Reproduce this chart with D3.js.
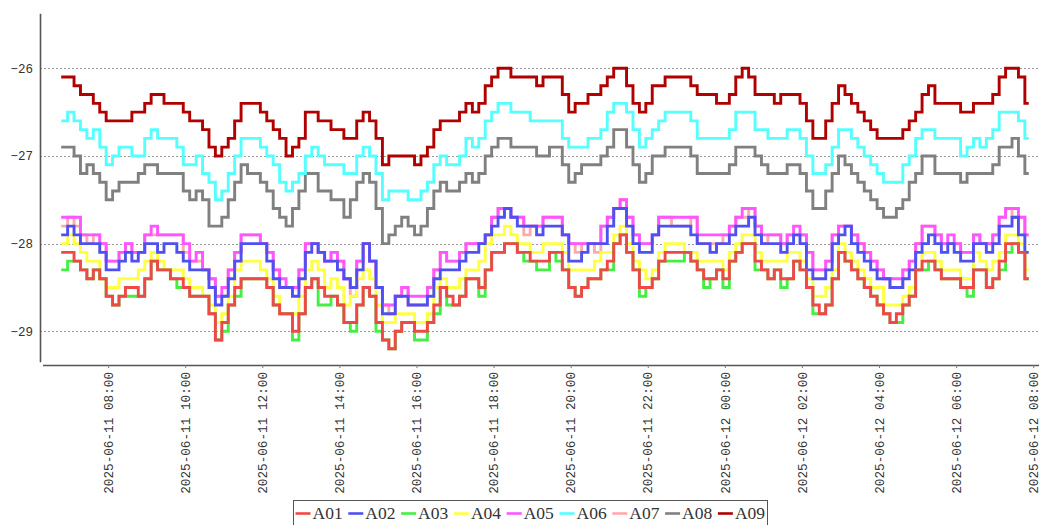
<!DOCTYPE html>
<html><head><meta charset="utf-8">
<script src="https://cdn.jsdelivr.net/npm/d3@7"></script>
<style>body{margin:0;background:#fff;overflow:hidden}</style>
</head><body>
<svg id="c" width="1039" height="525"></svg>
<script>
const seriesNames = ["A01","A02","A03","A04","A05","A06","A07","A08","A09"];
const seriesColors = ["#f04848","#5050f0","#44ee44","#ffff44","#ff55ff","#55ffff","#ffaaaa","#808080","#b00000"];
const startTime = "2025-06-11 06:47";
const stepMinutes = 10;
const endTime = "2025-06-12 07:53";
const yTicks = [-29, -28, -27, -26];
const yTickLabels = ["\u221229", "\u221228", "\u221227", "\u221226"];
const xTickLabels = ["2025-06-11 08:00","2025-06-11 10:00","2025-06-11 12:00","2025-06-11 14:00","2025-06-11 16:00","2025-06-11 18:00","2025-06-11 20:00","2025-06-11 22:00","2025-06-12 00:00","2025-06-12 02:00","2025-06-12 04:00","2025-06-12 06:00","2025-06-12 08:00"];

const A09 = [-26.1,-26.1,-26.2,-26.3,-26.3,-26.4,-26.5,-26.6,-26.6,-26.6,
-26.6,-26.5,-26.5,-26.4,-26.3,-26.3,-26.4,-26.4,-26.4,-26.5,
-26.6,-26.6,-26.7,-26.9,-27.0,-26.9,-26.8,-26.6,-26.4,-26.4,
-26.4,-26.5,-26.6,-26.7,-26.8,-27.0,-26.9,-26.8,-26.5,-26.5,
-26.6,-26.6,-26.7,-26.7,-26.8,-26.8,-26.6,-26.5,-26.6,-26.8,
-27.1,-27.0,-27.0,-27.0,-27.0,-27.1,-27.0,-26.9,-26.7,-26.6,
-26.6,-26.6,-26.5,-26.4,-26.5,-26.4,-26.2,-26.1,-26.0,-26.0,
-26.1,-26.1,-26.1,-26.1,-26.2,-26.1,-26.1,-26.1,-26.3,-26.5,
-26.4,-26.4,-26.3,-26.3,-26.2,-26.1,-26.0,-26.0,-26.2,-26.4,
-26.5,-26.4,-26.2,-26.2,-26.1,-26.1,-26.1,-26.1,-26.2,-26.3,
-26.3,-26.3,-26.4,-26.4,-26.3,-26.1,-26.0,-26.1,-26.3,-26.3,
-26.3,-26.4,-26.3,-26.3,-26.3,-26.4,-26.6,-26.8,-26.8,-26.6,
-26.4,-26.2,-26.3,-26.4,-26.5,-26.6,-26.7,-26.8,-26.8,-26.8,
-26.8,-26.7,-26.6,-26.5,-26.3,-26.2,-26.4,-26.4,-26.4,-26.4,
-26.5,-26.5,-26.4,-26.4,-26.4,-26.3,-26.1,-26.0,-26.0,-26.1,
-26.4];
const A06 = [-26.6,-26.5,-26.6,-26.7,-26.8,-26.7,-26.9,-27.1,-27.0,-26.9,
-26.9,-27.0,-27.0,-26.8,-26.7,-26.8,-26.8,-26.8,-26.9,-27.1,
-27.1,-27.0,-27.2,-27.3,-27.5,-27.4,-27.2,-27.0,-26.8,-26.8,
-26.8,-26.9,-27.0,-27.1,-27.3,-27.4,-27.3,-27.2,-27.0,-26.9,
-27.0,-27.1,-27.1,-27.1,-27.2,-27.2,-27.0,-26.9,-27.0,-27.2,
-27.5,-27.4,-27.4,-27.4,-27.5,-27.5,-27.4,-27.3,-27.1,-27.0,
-27.1,-27.1,-27.0,-26.8,-26.9,-26.8,-26.6,-26.5,-26.4,-26.4,
-26.5,-26.5,-26.5,-26.6,-26.6,-26.6,-26.6,-26.6,-26.8,-26.9,
-26.9,-26.9,-26.8,-26.8,-26.7,-26.5,-26.4,-26.4,-26.5,-26.7,
-26.9,-26.8,-26.7,-26.6,-26.5,-26.5,-26.5,-26.5,-26.6,-26.8,
-26.8,-26.8,-26.8,-26.8,-26.7,-26.5,-26.5,-26.5,-26.7,-26.7,
-26.8,-26.8,-26.8,-26.7,-26.7,-26.8,-27.0,-27.2,-27.2,-27.1,
-26.9,-26.7,-26.7,-26.8,-26.9,-27.0,-27.1,-27.2,-27.3,-27.3,
-27.3,-27.1,-27.0,-26.8,-26.7,-26.7,-26.8,-26.8,-26.8,-26.8,
-27.0,-26.9,-26.8,-26.9,-26.8,-26.7,-26.5,-26.5,-26.5,-26.6,
-26.8];
const A08 = [-26.9,-26.9,-27.0,-27.2,-27.1,-27.2,-27.3,-27.5,-27.4,-27.3,
-27.3,-27.3,-27.2,-27.1,-27.1,-27.2,-27.2,-27.2,-27.2,-27.4,
-27.5,-27.4,-27.5,-27.8,-27.8,-27.7,-27.5,-27.3,-27.1,-27.2,
-27.2,-27.3,-27.4,-27.6,-27.7,-27.8,-27.6,-27.4,-27.2,-27.2,
-27.4,-27.4,-27.5,-27.5,-27.7,-27.5,-27.3,-27.2,-27.3,-27.6,
-28.0,-27.9,-27.8,-27.7,-27.8,-27.9,-27.8,-27.6,-27.4,-27.3,
-27.4,-27.4,-27.3,-27.2,-27.3,-27.2,-27.0,-26.9,-26.8,-26.8,
-26.9,-26.9,-26.9,-26.9,-27.0,-27.0,-26.9,-26.9,-27.1,-27.3,
-27.2,-27.1,-27.1,-27.1,-27.0,-26.9,-26.7,-26.7,-26.9,-27.1,
-27.3,-27.2,-27.0,-27.0,-26.9,-26.9,-26.9,-26.9,-27.0,-27.2,
-27.2,-27.2,-27.2,-27.2,-27.1,-26.9,-26.9,-26.9,-27.0,-27.1,
-27.2,-27.2,-27.2,-27.1,-27.1,-27.2,-27.4,-27.6,-27.6,-27.4,
-27.2,-27.0,-27.1,-27.2,-27.3,-27.4,-27.5,-27.6,-27.7,-27.7,
-27.6,-27.5,-27.3,-27.2,-27.0,-27.0,-27.2,-27.2,-27.2,-27.2,
-27.3,-27.2,-27.2,-27.2,-27.2,-27.1,-26.9,-26.9,-26.8,-27.0,
-27.2];
const A05 = [-27.7,-27.7,-27.7,-27.9,-27.9,-27.9,-28.0,-28.2,-28.2,-28.1,
-28.0,-28.1,-28.1,-27.9,-27.8,-27.9,-27.9,-27.9,-27.9,-28.0,
-28.2,-28.1,-28.3,-28.4,-28.6,-28.5,-28.3,-28.1,-27.9,-27.9,
-27.9,-28.0,-28.1,-28.3,-28.4,-28.5,-28.5,-28.3,-28.0,-28.0,
-28.1,-28.2,-28.1,-28.2,-28.4,-28.5,-28.2,-28.0,-28.2,-28.5,
-28.7,-28.7,-28.6,-28.5,-28.6,-28.6,-28.6,-28.5,-28.3,-28.1,
-28.2,-28.2,-28.1,-28.0,-28.0,-28.0,-27.9,-27.7,-27.6,-27.6,
-27.7,-27.7,-27.8,-27.8,-27.8,-27.7,-27.7,-27.7,-27.9,-28.0,
-28.0,-28.0,-28.0,-28.0,-27.8,-27.7,-27.6,-27.5,-27.7,-27.9,
-28.0,-28.0,-27.9,-27.7,-27.7,-27.7,-27.7,-27.7,-27.7,-27.9,
-27.9,-27.9,-27.9,-27.9,-27.8,-27.7,-27.6,-27.6,-27.8,-27.9,
-27.9,-27.9,-28.0,-27.9,-27.8,-27.9,-28.1,-28.3,-28.3,-28.2,
-27.9,-27.8,-27.8,-27.9,-28.0,-28.1,-28.2,-28.3,-28.4,-28.4,
-28.4,-28.3,-28.2,-28.0,-27.8,-27.8,-27.9,-28.0,-27.9,-28.0,
-28.1,-28.1,-27.9,-28.0,-28.0,-27.9,-27.7,-27.6,-27.6,-27.7,
-27.9];
const A07 = [-27.8,-27.7,-27.8,-27.9,-28.0,-27.9,-28.0,-28.2,-28.2,-28.1,
-28.0,-28.1,-28.1,-27.9,-27.9,-27.9,-27.9,-27.9,-27.9,-28.1,
-28.2,-28.2,-28.3,-28.4,-28.6,-28.6,-28.3,-28.1,-27.9,-27.9,
-27.9,-28.0,-28.1,-28.3,-28.5,-28.5,-28.5,-28.3,-28.0,-28.0,
-28.1,-28.2,-28.1,-28.2,-28.4,-28.6,-28.2,-28.0,-28.2,-28.5,
-28.7,-28.8,-28.6,-28.5,-28.7,-28.7,-28.7,-28.5,-28.3,-28.1,
-28.2,-28.2,-28.1,-28.0,-28.0,-28.0,-27.9,-27.7,-27.6,-27.6,
-27.7,-27.7,-27.9,-27.8,-27.8,-27.7,-27.7,-27.7,-27.9,-28.0,
-28.1,-28.0,-28.0,-28.1,-27.8,-27.7,-27.6,-27.5,-27.7,-27.9,
-28.0,-28.0,-27.9,-27.7,-27.7,-27.8,-27.8,-27.8,-27.7,-28.0,
-28.0,-28.0,-28.0,-27.9,-27.8,-27.7,-27.7,-27.6,-27.8,-28.0,
-27.9,-27.9,-28.0,-27.9,-27.9,-27.9,-28.1,-28.3,-28.3,-28.2,
-27.9,-27.8,-27.8,-27.9,-28.0,-28.1,-28.2,-28.3,-28.4,-28.5,
-28.5,-28.3,-28.2,-28.0,-27.8,-27.8,-27.9,-28.0,-28.0,-28.0,
-28.1,-28.1,-27.9,-28.0,-28.0,-27.9,-27.7,-27.6,-27.7,-27.7,
-27.9];
const A02 = [-27.9,-27.8,-27.9,-28.0,-28.0,-28.0,-28.1,-28.3,-28.3,-28.2,
-28.1,-28.2,-28.1,-28.0,-28.0,-28.1,-28.0,-28.0,-28.1,-28.2,
-28.3,-28.3,-28.3,-28.5,-28.7,-28.6,-28.4,-28.2,-28.0,-28.0,
-28.0,-28.0,-28.2,-28.4,-28.5,-28.5,-28.6,-28.4,-28.1,-28.0,
-28.1,-28.2,-28.2,-28.3,-28.4,-28.5,-28.3,-28.0,-28.2,-28.5,
-28.8,-28.8,-28.6,-28.6,-28.7,-28.7,-28.7,-28.6,-28.4,-28.3,
-28.3,-28.3,-28.2,-28.1,-28.1,-28.0,-27.9,-27.8,-27.7,-27.6,
-27.7,-27.8,-27.8,-27.8,-27.9,-27.8,-27.8,-27.8,-27.9,-28.2,
-28.2,-28.1,-28.0,-28.0,-28.0,-27.8,-27.6,-27.6,-27.8,-28.0,
-28.1,-28.1,-27.9,-27.8,-27.8,-27.8,-27.8,-27.8,-27.9,-28.0,
-28.0,-28.1,-28.0,-28.0,-27.9,-27.8,-27.8,-27.7,-27.9,-28.0,
-28.0,-28.0,-28.1,-28.0,-27.9,-28.0,-28.3,-28.4,-28.4,-28.3,
-28.0,-27.9,-27.8,-28.0,-28.1,-28.2,-28.3,-28.4,-28.4,-28.5,
-28.5,-28.4,-28.3,-28.1,-28.0,-27.9,-28.0,-28.1,-28.0,-28.1,
-28.2,-28.2,-28.0,-28.0,-28.1,-28.0,-27.8,-27.8,-27.7,-27.9,
-28.1];
const A04 = [-28.0,-27.9,-28.0,-28.1,-28.2,-28.2,-28.4,-28.5,-28.5,-28.4,
-28.4,-28.4,-28.3,-28.2,-28.1,-28.2,-28.3,-28.3,-28.3,-28.4,
-28.5,-28.5,-28.6,-28.7,-28.9,-28.8,-28.6,-28.3,-28.2,-28.2,
-28.2,-28.3,-28.4,-28.6,-28.8,-28.8,-28.8,-28.6,-28.3,-28.2,
-28.3,-28.5,-28.4,-28.5,-28.7,-28.6,-28.4,-28.3,-28.4,-28.7,
-28.9,-28.9,-28.8,-28.8,-28.8,-28.9,-28.9,-28.8,-28.5,-28.4,
-28.5,-28.5,-28.4,-28.3,-28.3,-28.2,-28.0,-27.9,-27.9,-27.8,
-27.9,-28.0,-28.0,-28.1,-28.1,-28.0,-28.0,-28.0,-28.1,-28.3,
-28.3,-28.3,-28.3,-28.2,-28.1,-28.1,-27.9,-27.8,-28.0,-28.2,
-28.3,-28.4,-28.3,-28.1,-28.0,-28.0,-28.0,-28.1,-28.1,-28.2,
-28.2,-28.2,-28.2,-28.3,-28.1,-28.0,-27.9,-27.9,-28.1,-28.2,
-28.2,-28.2,-28.2,-28.1,-28.1,-28.2,-28.4,-28.6,-28.6,-28.5,
-28.3,-28.0,-28.1,-28.2,-28.3,-28.4,-28.5,-28.5,-28.7,-28.7,
-28.7,-28.6,-28.5,-28.3,-28.1,-28.1,-28.2,-28.3,-28.3,-28.3,
-28.4,-28.4,-28.1,-28.2,-28.3,-28.2,-28.1,-27.9,-27.9,-28.0,
-28.3];
const A01 = [-28.1,-28.1,-28.2,-28.3,-28.4,-28.3,-28.4,-28.6,-28.7,-28.6,
-28.5,-28.5,-28.6,-28.4,-28.2,-28.3,-28.3,-28.4,-28.4,-28.5,
-28.6,-28.6,-28.6,-28.8,-29.1,-28.9,-28.7,-28.5,-28.4,-28.4,
-28.4,-28.4,-28.5,-28.7,-28.8,-28.8,-29.0,-28.8,-28.5,-28.4,
-28.5,-28.6,-28.6,-28.7,-28.9,-28.9,-28.7,-28.5,-28.6,-28.9,
-29.1,-29.2,-29.0,-28.9,-28.9,-29.0,-29.0,-28.9,-28.7,-28.5,
-28.6,-28.7,-28.6,-28.4,-28.4,-28.5,-28.3,-28.1,-28.1,-28.0,
-28.0,-28.1,-28.1,-28.2,-28.2,-28.2,-28.1,-28.1,-28.3,-28.5,
-28.6,-28.5,-28.4,-28.4,-28.3,-28.2,-28.0,-27.9,-28.1,-28.3,
-28.5,-28.5,-28.4,-28.2,-28.1,-28.1,-28.1,-28.1,-28.2,-28.3,
-28.4,-28.4,-28.3,-28.4,-28.2,-28.1,-28.0,-28.0,-28.2,-28.3,
-28.4,-28.3,-28.4,-28.4,-28.2,-28.3,-28.5,-28.7,-28.8,-28.7,
-28.4,-28.1,-28.2,-28.3,-28.4,-28.5,-28.6,-28.7,-28.8,-28.9,
-28.8,-28.7,-28.6,-28.3,-28.2,-28.2,-28.3,-28.4,-28.4,-28.4,
-28.5,-28.5,-28.3,-28.3,-28.5,-28.4,-28.2,-28.0,-28.0,-28.1,
-28.4];
const A03 = [-28.3,-28.2,-28.2,-28.3,-28.4,-28.3,-28.4,-28.6,-28.7,-28.6,
-28.6,-28.6,-28.6,-28.4,-28.2,-28.3,-28.3,-28.4,-28.5,-28.5,
-28.6,-28.6,-28.6,-28.8,-29.1,-29.0,-28.7,-28.6,-28.4,-28.4,
-28.4,-28.4,-28.5,-28.7,-28.8,-28.8,-29.1,-28.8,-28.5,-28.4,
-28.7,-28.7,-28.6,-28.7,-28.9,-29.0,-28.7,-28.5,-28.6,-29.0,
-29.1,-29.2,-29.0,-28.9,-28.9,-29.1,-29.1,-28.9,-28.8,-28.5,
-28.7,-28.7,-28.6,-28.4,-28.4,-28.6,-28.3,-28.1,-28.1,-28.0,
-28.0,-28.1,-28.2,-28.2,-28.3,-28.3,-28.1,-28.2,-28.3,-28.5,
-28.6,-28.5,-28.4,-28.4,-28.3,-28.3,-28.0,-27.9,-28.1,-28.3,
-28.6,-28.5,-28.4,-28.2,-28.2,-28.2,-28.2,-28.1,-28.2,-28.3,
-28.5,-28.4,-28.3,-28.5,-28.2,-28.1,-28.0,-28.0,-28.3,-28.3,
-28.4,-28.3,-28.5,-28.4,-28.2,-28.3,-28.5,-28.8,-28.8,-28.7,
-28.4,-28.1,-28.2,-28.3,-28.4,-28.5,-28.6,-28.7,-28.8,-28.9,
-28.9,-28.7,-28.6,-28.3,-28.3,-28.2,-28.3,-28.4,-28.4,-28.4,
-28.5,-28.6,-28.3,-28.3,-28.5,-28.4,-28.3,-28.1,-28.0,-28.1,
-28.4];

const seriesValues = [A01, A02, A03, A04, A05, A06, A07, A08, A09];

const parse = d3.timeParse("%Y-%m-%d %H:%M");
const t0 = parse(startTime);
const tEnd = parse(endTime);
const times = A01.map((_, i) => d3.timeMinute.offset(t0, i * stepMinutes));

const svg = d3.select("#c");
const W = 1039, H = 525;
const x = d3.scaleTime()
  .domain([parse("2025-06-11 06:14"), parse("2025-06-12 08:09")])
  .range([40, 1039]);
const y = d3.scaleLinear().domain([-29.347, -25.373]).range([361.7, 13.3]);

const tickFont = "'Liberation Mono', 'DejaVu Sans Mono', monospace";

// gridlines
svg.append("g").selectAll("line").data(yTicks).join("line")
  .attr("x1", 40).attr("x2", W)
  .attr("y1", d => Math.round(y(d)) + 0.5).attr("y2", d => Math.round(y(d)) + 0.5)
  .attr("stroke", "#999").attr("stroke-width", 1).attr("stroke-dasharray", "2,2");

// series (drawn last-to-first so A01 is on top)
const line = d3.line().x(d => x(d.t)).y(d => y(d.v)).curve(d3.curveStepAfter);
const order = d3.range(seriesNames.length).reverse();
const gLines = svg.append("g");
order.forEach(k => {
  const vals = seriesValues[k];
  const pts = vals.map((v, i) => ({t: times[i], v}));
  pts.push({t: tEnd, v: vals[vals.length - 1]});
  gLines.append("path").datum(pts)
    .attr("d", line)
    .attr("fill", "none")
    .attr("stroke", seriesColors[k])
    .attr("stroke-width", 2.9)
    .attr("stroke-linejoin", "miter")
    .attr("stroke-linecap", "butt");
});

// y axis
const yAxis = d3.axisLeft(y).tickValues(yTicks).tickSize(0).tickPadding(7)
  .tickFormat((d, i) => yTickLabels[i]);
const gy = svg.append("g").attr("transform", "translate(40,0)").call(yAxis);
gy.select(".domain").attr("stroke", "#555").attr("stroke-width", 1.6);
gy.selectAll("text").attr("font-family", tickFont).attr("font-size", 12.5).attr("fill", "#333");

// x axis
const xTickTimes = xTickLabels.map(parse);
const xAxis = d3.axisBottom(x).tickValues(xTickTimes).tickSize(3).tickSizeOuter(0)
  .tickFormat((d, i) => xTickLabels[i]);
const gx = svg.append("g").attr("transform", "translate(0,365)").call(xAxis);
gx.select(".domain").attr("stroke", "#555").attr("stroke-width", 1.6).attr("d", "M43,0.5H1039");
gx.selectAll(".tick line").attr("stroke", "#777");
gx.selectAll("text")
  .attr("transform", "rotate(-90)")
  .attr("x", -7).attr("y", 0).attr("dy", "0.33em")
  .style("text-anchor", "end")
  .attr("font-family", tickFont).attr("font-size", 12.7).attr("fill", "#333");

// legend
const legX = 293.5, legY = 500.5, legW = 474, step = 52.8;
const gl = svg.append("g");
gl.append("rect").attr("x", legX).attr("y", legY).attr("width", legW).attr("height", 40)
  .attr("fill", "#fff").attr("stroke", "#555").attr("stroke-width", 1);
seriesNames.forEach((name, k) => {
  const x0 = legX + 2 + k * step;
  gl.append("line").attr("x1", x0).attr("x2", x0 + 15).attr("y1", 513.5).attr("y2", 513.5)
    .attr("stroke", seriesColors[k]).attr("stroke-width", 2.6);
  gl.append("text").attr("x", x0 + 17).attr("y", 518.5).text(name)
    .attr("font-family", "'Liberation Serif', serif").attr("font-size", 17.5).attr("fill", "#333");
});
</script>
</body></html>
